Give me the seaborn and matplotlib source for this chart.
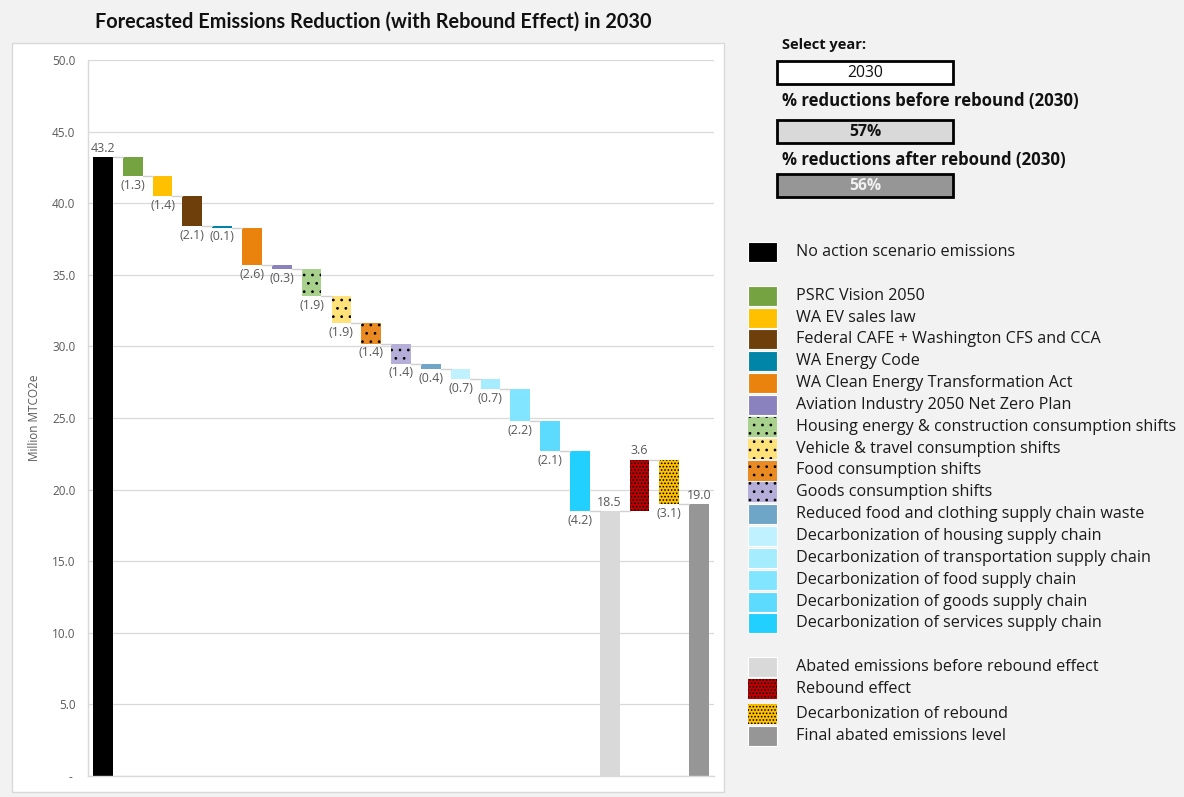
import matplotlib
matplotlib.use("Agg")
import matplotlib.pyplot as plt
from matplotlib.patches import Rectangle
from matplotlib.ticker import FuncFormatter, MultipleLocator
import numpy as np
import pandas as pd
import seaborn as sns

# ---- data -------------------------------------------------------------
categories = [
    "No action scenario emissions",
    "PSRC Vision 2050",
    "WA EV sales law",
    "Federal CAFE + Washington CFS and CCA",
    "WA Energy Code",
    "WA Clean Energy Transformation Act",
    "Aviation Industry 2050 Net Zero Plan",
    "Housing energy & construction consumption shifts",
    "Vehicle & travel consumption shifts",
    "Food consumption shifts",
    "Goods consumption shifts",
    "Reduced food and clothing supply chain waste",
    "Decarbonization of housing supply chain",
    "Decarbonization of transportation supply chain",
    "Decarbonization of food supply chain",
    "Decarbonization of goods supply chain",
    "Decarbonization of services supply chain",
    "Abated emissions before rebound effect",
    "Rebound effect",
    "Decarbonization of rebound",
    "Final abated emissions level",
]
# change (Million MTCO2e); totals are absolute levels
values = [43.2, -1.3, -1.4, -2.1, -0.1, -2.6, -0.3, -1.9, -1.9, -1.4, -1.4,
          -0.4, -0.7, -0.7, -2.2, -2.1, -4.2, 18.5, 3.6, -3.1, 19.0]
is_total = [True] + [False] * 16 + [True, False, False, True]

colors = ["#000000", "#76a341", "#ffc000", "#6f3f0b", "#0085a8", "#e9830e",
          "#8a82bf", "#a9d18e", "#ffe27a", "#ea8a22", "#b5aed8", "#6fa5c6",
          "#bff1ff", "#a6ecff", "#82e5ff", "#5cdbff", "#22d0ff", "#d9d9d9",
          "#c00000", "#ffc000", "#969696"]
hatches = [None] * 7 + ["..", "..", "..", ".."] + [None] * 6 + [None, ".....", ".....", None]

select_year = "2030"
pct_before = "57%"
pct_after = "56%"

# ---- waterfall geometry ----------------------------------------------
bottoms, heights, levels = [], [], []
level = 0.0
for v, tot in zip(values, is_total):
    if tot:
        bottoms.append(0.0)
        heights.append(v)
        level = v
    else:
        new = level + v
        bottoms.append(min(level, new))
        heights.append(abs(v))
        level = new
    levels.append(round(level, 2))

df = pd.DataFrame({"item": categories, "height": heights, "bottom": bottoms})

# ---- style -----------------------------------------------------------
sns.set_theme(style="white")
plt.rcParams["font.family"] = ["Open Sans", "DejaVu Sans"]
plt.rcParams["hatch.linewidth"] = 0.75

W, H = 1184, 797
fig = plt.figure(figsize=(W / 100, H / 100), dpi=100)
fig.patch.set_facecolor("#f2f2f2")

# white chart panel
fig.add_artist(Rectangle((12 / W, 1 - 792 / H), 712 / W, 749 / H,
                         transform=fig.transFigure, facecolor="white",
                         edgecolor="#d9d9d9", lw=1.0, zorder=0))

ax = fig.add_axes([88 / W, 1 - 776 / H, (714 - 88) / W, (776 - 60) / H])
ax.set_facecolor("none")

bar_w = 0.66
sns.barplot(data=df, x="item", y="height", hue="item", order=categories,
            hue_order=categories, palette=colors, saturation=1, width=bar_w,
            errorbar=None, legend=False, ax=ax)

for patch, b, h in zip(ax.patches, bottoms, hatches):
    patch.set_y(b)
    if h:
        patch.set_hatch(h)
        patch.set_edgecolor("black")
        patch.set_linewidth(0)
    else:
        patch.set_edgecolor("none")
        patch.set_linewidth(0)

# connector lines between consecutive bars
for i in range(len(categories) - 1):
    ax.plot([i + bar_w / 2, i + 1 - bar_w / 2], [levels[i], levels[i]],
            color="#d0d0d0", lw=1.0, zorder=1)

# value labels
lab_color = "#595959"
for i, (v, tot) in enumerate(zip(values, is_total)):
    top = bottoms[i] + heights[i]
    if tot or v > 0:
        ax.annotate(f"{abs(v):.1f}", (i, top), xytext=(0, 1.5),
                    textcoords="offset points", ha="center", va="bottom",
                    fontsize=9, color=lab_color)
    else:
        ax.annotate(f"({abs(v):.1f})", (i, bottoms[i]), xytext=(0, -2),
                    textcoords="offset points", ha="center", va="top",
                    fontsize=9, color=lab_color)

ax.set_xlim(-0.5, len(categories) - 0.5)
ax.set_ylim(0, 50)
ax.yaxis.set_major_locator(MultipleLocator(5))
ax.yaxis.set_major_formatter(FuncFormatter(lambda y, _: "- " if y == 0 else f"{y:.1f}"))
ax.tick_params(axis="y", length=0, pad=9, labelsize=8.5, labelcolor=lab_color)
ax.tick_params(axis="x", length=0, labelbottom=False)
ax.set_xlabel("")
ax.set_ylabel("Million MTCO2e", fontsize=8.5, color=lab_color, labelpad=8)
ax.grid(axis="y", color="#d9d9d9", lw=0.9)
ax.set_axisbelow(True)
for s in ["top", "right"]:
    ax.spines[s].set_visible(False)
for s in ["left", "bottom"]:
    ax.spines[s].set_color("#d9d9d9")
    ax.spines[s].set_linewidth(1.0)

# title
fig.text(373 / W, 1 - 22 / H,
         "Forecasted Emissions Reduction (with Rebound Effect) in 2030",
         ha="center", va="center", fontsize=14.3, fontweight="bold",
         color="#111111", family=["Lato", "DejaVu Sans"])

# ---- selector / summary boxes ----------------------------------------
def box(y_top, text, face, tcolor, bold):
    fig.add_artist(Rectangle((777 / W, 1 - (y_top + 23) / H), 176 / W, 23 / H,
                             transform=fig.transFigure, facecolor=face,
                             edgecolor="black", lw=2.0))
    fig.text(865 / W, 1 - (y_top + 12) / H, text, ha="center", va="center",
             fontsize=11.3, color=tcolor, fontweight="bold" if bold else "normal")

fig.text(782 / W, 1 - 45 / H, "Select year:", ha="left", va="center",
         fontsize=10.5, fontweight="bold", color="#111111")
box(61, select_year, "white", "#111111", False)
fig.text(782 / W, 1 - 101 / H, f"% reductions before rebound ({select_year})",
         ha="left", va="center", fontsize=12.1, fontweight="bold", color="#111111")
box(120, pct_before, "#d9d9d9", "#111111", True)
fig.text(782 / W, 1 - 160 / H, f"% reductions after rebound ({select_year})",
         ha="left", va="center", fontsize=12.1, fontweight="bold", color="#111111")
box(174, pct_after, "#969696", "#f2f2f2", True)

# ---- legend ----------------------------------------------------------
rows = [0] + list(range(2, 18)) + [19, 20, 21, 22]
for name, c, h, r in zip(categories, colors, hatches, rows):
    yc = 252 + 21.85 * r + (3 if r >= 21 else 0)
    fig.add_artist(Rectangle((748 / W, 1 - (yc + 10) / H), 29 / W, 20 / H,
                             transform=fig.transFigure, facecolor=c,
                             edgecolor="black" if h else "white",
                             lw=0 if h else 0.8, hatch=h))
    fig.text(796 / W, 1 - yc / H, name, ha="left", va="center",
             fontsize=11.6, color="#1a1a1a")

fig.savefig("out.png", dpi=100, facecolor=fig.get_facecolor())
